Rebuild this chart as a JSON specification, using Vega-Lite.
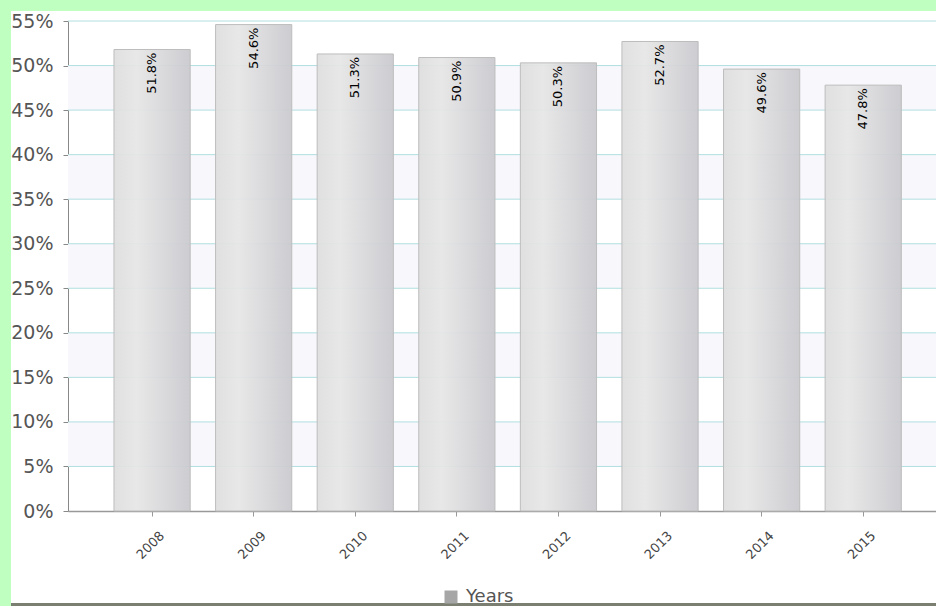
{
  "$schema": "https://vega.github.io/schema/vega-lite/v6.json",
  "background": "#bfffbf",
  "padding": {"left": 11, "top": 11, "right": 0, "bottom": 0},
  "autosize": {"type": "none"},
  "width": 925,
  "height": 595,
  "view": {"fill": "white", "stroke": null},
  "config": {"font": "DejaVu Sans"},
  "datasets": {
    "years": [
      {"year": "2008", "value": 0.518, "series": "Years"},
      {"year": "2009", "value": 0.546, "series": "Years"},
      {"year": "2010", "value": 0.513, "series": "Years"},
      {"year": "2011", "value": 0.509, "series": "Years"},
      {"year": "2012", "value": 0.503, "series": "Years"},
      {"year": "2013", "value": 0.527, "series": "Years"},
      {"year": "2014", "value": 0.496, "series": "Years"},
      {"year": "2015", "value": 0.478, "series": "Years"}
    ],
    "bands": [
      {"lo": 0.05, "hi": 0.10},
      {"lo": 0.15, "hi": 0.20},
      {"lo": 0.25, "hi": 0.30},
      {"lo": 0.35, "hi": 0.40},
      {"lo": 0.45, "hi": 0.50}
    ],
    "grid": [
      {"v": 0.05}, {"v": 0.10}, {"v": 0.15}, {"v": 0.20}, {"v": 0.25}, {"v": 0.30},
      {"v": 0.35}, {"v": 0.40}, {"v": 0.45}, {"v": 0.50}, {"v": 0.55}
    ],
    "frame": [{"k": 0, "series": "Years"}]
  },
  "resolve": {"scale": {"x": "independent", "y": "independent"}, "axis": {"x": "independent", "y": "independent"}},
  "layer": [
    {
      "data": {"name": "bands"},
      "mark": {"type": "rect", "fill": "#f7f7fc", "stroke": null},
      "encoding": {
        "x": {"datum": 0, "type": "quantitative", "scale": {"domain": [0, 1], "range": [57, 925]}, "axis": null},
        "x2": {"datum": 1},
        "y": {"field": "lo", "type": "quantitative", "scale": {"domain": [0, 0.55], "nice": false, "range": [500, 10]}, "axis": null},
        "y2": {"field": "hi"}
      }
    },
    {
      "data": {"name": "grid"},
      "mark": {"type": "rule", "color": "#b2dfe0", "strokeWidth": 1},
      "encoding": {
        "x": {"datum": 0, "type": "quantitative", "scale": {"domain": [0, 1], "range": [57, 925]}, "axis": null},
        "x2": {"datum": 1},
        "y": {"field": "v", "type": "quantitative", "scale": {"domain": [0, 0.55], "nice": false, "range": [500, 10]}, "axis": null}
      }
    },
    {
      "data": {"name": "years"},
      "mark": {
        "type": "bar",
        "strokeWidth": 1,
        "stroke": "#bdbdbd",
        "fillOpacity": 0.93,
        "fill": {
          "gradient": "linear", "x1": 0, "y1": 0, "x2": 1, "y2": 0,
          "stops": [
            {"offset": 0, "color": "#dedede"},
            {"offset": 0.3, "color": "#e6e6e6"},
            {"offset": 1, "color": "#c9c9ce"}
          ]
        }
      },
      "encoding": {
        "x": {
          "field": "year", "type": "nominal",
          "scale": {"type": "band", "range": [57, 925], "paddingInner": 0.25, "paddingOuter": 0.397, "align": 0.57},
          "axis": {
            "title": null, "orient": "bottom", "offset": -95,
            "labelAngle": -45, "labelFontSize": 13, "labelColor": "#444",
            "labelPadding": 13, "labelOffset": 6,
            "tickSize": 5, "tickColor": "#999", "domainColor": "#999", "domainWidth": 1.5
          }
        },
        "y": {
          "field": "value", "type": "quantitative",
          "scale": {"domain": [0, 0.55], "nice": false, "range": [500, 10]},
          "axis": {
            "title": null, "orient": "left", "offset": -57, "grid": false, "format": ".0%",
            "values": [0, 0.05, 0.1, 0.15, 0.2, 0.25, 0.3, 0.35, 0.4, 0.45, 0.5, 0.55],
            "labelFontSize": 19, "labelColor": "#555", "labelPadding": 10,
            "tickSize": 5, "tickColor": "#888", "domainColor": "#888"
          }
        }
      }
    },
    {
      "data": {"name": "years"},
      "mark": {"type": "text", "angle": 270, "align": "right", "baseline": "middle", "dx": -3, "fontSize": 13, "color": "#000"},
      "encoding": {
        "x": {"field": "year", "type": "nominal", "bandPosition": 0.5, "scale": {"type": "band", "range": [57, 925], "paddingInner": 0.25, "paddingOuter": 0.397, "align": 0.57}, "axis": null},
        "y": {"field": "value", "type": "quantitative", "scale": {"domain": [0, 0.55], "nice": false, "range": [500, 10]}, "axis": null},
        "text": {"field": "value", "type": "quantitative", "format": ".1%"}
      }
    },
    {
      "data": {"name": "frame"},
      "mark": {"type": "square", "opacity": 0, "size": 1},
      "encoding": {
        "fill": {
          "field": "series", "type": "nominal",
          "scale": {"range": ["#a6a6a6"]},
          "legend": {
            "title": null, "orient": "none", "legendX": 431, "legendY": 577,
            "symbolType": "square", "symbolSize": 169, "symbolOpacity": 1, "padding": 0,
            "labelFontSize": 18, "labelColor": "#555", "labelOffset": 6,
            "encode": {"symbols": {"update": {"opacity": {"value": 1}, "fillOpacity": {"value": 1}}}}
          }
        }
      }
    },
    {
      "data": {"name": "frame"},
      "mark": {"type": "rule", "color": "#7b7f72", "strokeWidth": 6},
      "encoding": {
        "y": {"datum": 0, "type": "quantitative", "scale": {"domain": [0, 1]}, "axis": null}
      }
    }
  ]
}
